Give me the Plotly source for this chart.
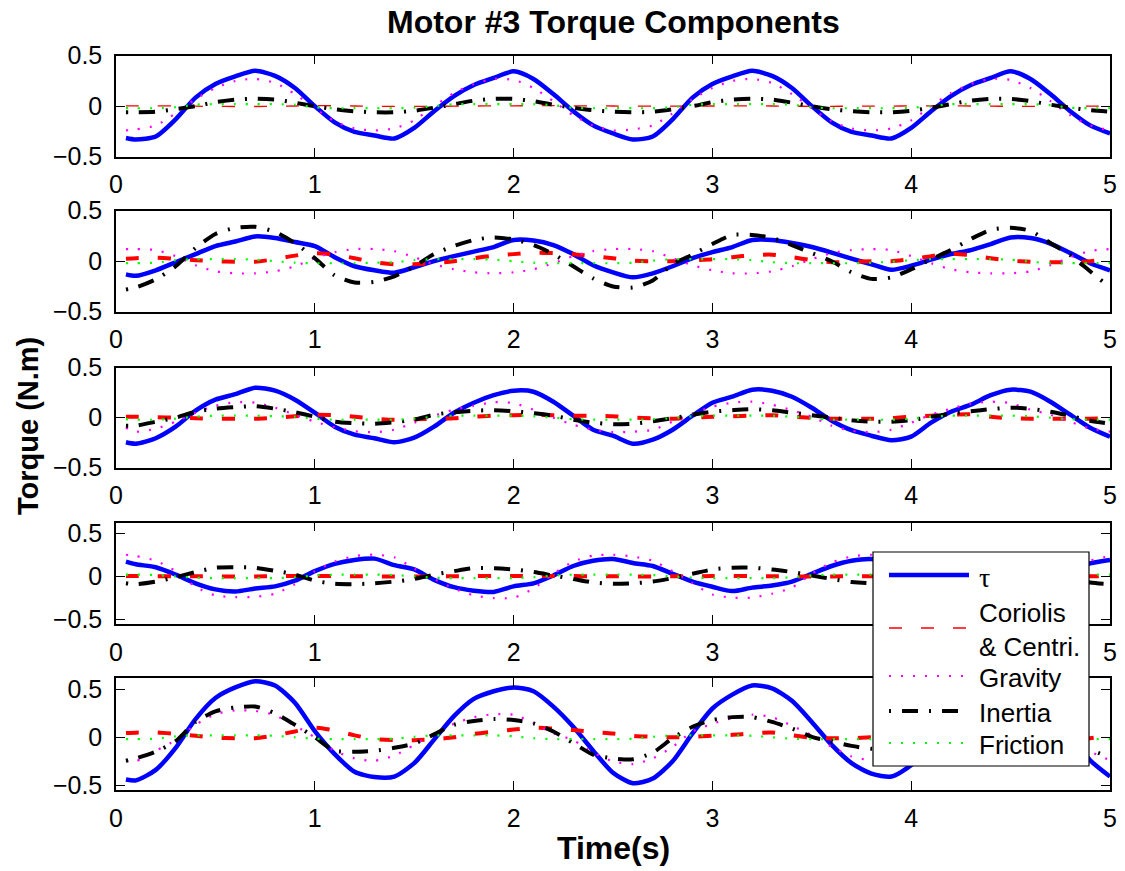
import plotly.graph_objects as go

# ---------------------------------------------------------------- data
time_s = [0.05,
          0.1, 0.2, 0.3, 0.4, 0.5, 0.6, 0.7, 0.8, 0.9, 1.0,
          1.1, 1.2, 1.3, 1.4, 1.5, 1.6, 1.7, 1.8, 1.9, 2.0,
          2.1, 2.2, 2.3, 2.4, 2.5, 2.6, 2.7, 2.8, 2.9, 3.0,
          3.1, 3.2, 3.3, 3.4, 3.5, 3.6, 3.7, 3.8, 3.9, 4.0,
          4.1, 4.2, 4.3, 4.4, 4.5, 4.6, 4.7, 4.8, 4.9, 5.0]

series_names = ["τ", "Coriolis & Centri.", "Gravity", "Inertia", "Friction"]
legend_labels = ["τ", "Coriolis<br>& Centri.", "Gravity", "Inertia", "Friction"]

# row 1
tau_1 = [-0.315,
         -0.33, -0.30, -0.13, 0.085, 0.22, 0.295, 0.35, 0.30, 0.18, 0.0,
         -0.16, -0.255, -0.29, -0.32, -0.215, -0.05, 0.10, 0.21, 0.28, 0.345,
         0.27, 0.12, -0.05, -0.19, -0.27, -0.33, -0.30, -0.13, 0.085, 0.22,
         0.295, 0.35, 0.30, 0.18, 0.0, -0.16, -0.255, -0.29, -0.32, -0.215,
         -0.05, 0.10, 0.21, 0.28, 0.345, 0.27, 0.12, -0.05, -0.19, -0.27]
cor_1 = [0.003,
         0.003, 0.003, 0.002, 0.0, -0.002, -0.003, -0.003, -0.001, 0.002, 0.005,
         0.004, 0.002, -0.001, -0.002, -0.002, -0.001, 0.0, 0.002, 0.003, 0.004,
         0.005, 0.005, 0.004, 0.003, 0.002, 0.001, 0.0, 0.0, 0.001, 0.002,
         0.003, 0.003, 0.002, 0.0, -0.001, -0.001, 0.0, 0.0, 0.001, 0.003,
         0.004, 0.003, 0.002, 0.0, -0.001, -0.001, -0.001, 0.0, 0.001, 0.002]
grav_1 = [-0.24,
          -0.23, -0.19, -0.07, 0.07, 0.18, 0.25, 0.27, 0.23, 0.12, -0.02,
          -0.15, -0.22, -0.24, -0.22, -0.14, 0.0, 0.13, 0.22, 0.27, 0.26,
          0.18, 0.05, -0.09, -0.19, -0.24, -0.23, -0.19, -0.07, 0.07, 0.18,
          0.25, 0.27, 0.23, 0.12, -0.02, -0.15, -0.22, -0.24, -0.22, -0.14,
          0.0, 0.13, 0.22, 0.27, 0.26, 0.18, 0.05, -0.09, -0.19, -0.24]
inert_1 = [-0.06,
           -0.06, -0.055, -0.03, 0.0, 0.04, 0.065, 0.075, 0.065, 0.035, 0.0,
           -0.03, -0.05, -0.06, -0.06, -0.045, -0.015, 0.02, 0.055, 0.072, 0.072,
           0.05, 0.015, -0.015, -0.04, -0.055, -0.06, -0.055, -0.03, 0.0, 0.04,
           0.065, 0.075, 0.065, 0.035, 0.0, -0.03, -0.05, -0.06, -0.06, -0.045,
           -0.015, 0.02, 0.055, 0.072, 0.072, 0.05, 0.015, -0.015, -0.04, -0.055]
fric_1 = [-0.02,
          -0.02, -0.02, -0.01, 0.015, 0.02, 0.02, 0.02, 0.02, 0.015, -0.01,
          -0.02, -0.02, -0.02, -0.02, -0.015, 0.0, 0.02, 0.02, 0.02, 0.02,
          0.02, 0.01, -0.015, -0.02, -0.02, -0.02, -0.02, -0.01, 0.015, 0.02,
          0.02, 0.02, 0.02, 0.015, -0.01, -0.02, -0.02, -0.02, -0.02, -0.015,
          0.0, 0.02, 0.02, 0.02, 0.02, 0.02, 0.01, -0.015, -0.02, -0.02]

# row 2
tau_2 = [-0.13,
         -0.145, -0.09, -0.01, 0.07, 0.15, 0.195, 0.245, 0.23, 0.19, 0.15,
         0.04, -0.05, -0.09, -0.115, -0.06, 0.0, 0.05, 0.095, 0.14, 0.21,
         0.205, 0.16, 0.07, -0.04, -0.11, -0.16, -0.12, -0.05, 0.03, 0.09,
         0.14, 0.21, 0.21, 0.18, 0.14, 0.085, 0.025, -0.03, -0.085, -0.045,
         0.015, 0.07, 0.11, 0.17, 0.235, 0.23, 0.175, 0.08, -0.02, -0.09]
cor_2 = [0.025,
         0.03, 0.035, 0.025, 0.01, 0.0, -0.005, -0.005, 0.02, 0.055, 0.08,
         0.065, 0.03, -0.01, -0.03, -0.03, -0.02, 0.0, 0.03, 0.055, 0.07,
         0.085, 0.08, 0.07, 0.05, 0.03, 0.005, 0.0, 0.0, 0.01, 0.02,
         0.04, 0.06, 0.065, 0.04, 0.01, -0.01, -0.005, 0.0, 0.0, 0.02,
         0.05, 0.075, 0.06, 0.03, 0.005, -0.005, -0.01, -0.01, 0.0, 0.02]
grav_2 = [0.12,
          0.12, 0.11, 0.05, -0.04, -0.10, -0.12, -0.12, -0.10, -0.05, 0.03,
          0.09, 0.12, 0.12, 0.10, 0.04, -0.03, -0.08, -0.11, -0.12, -0.11,
          -0.08, -0.02, 0.05, 0.10, 0.12, 0.12, 0.10, 0.03, -0.04, -0.09,
          -0.12, -0.12, -0.10, -0.05, 0.02, 0.08, 0.11, 0.12, 0.11, 0.05,
          -0.02, -0.08, -0.11, -0.12, -0.12, -0.10, -0.04, 0.04, 0.10, 0.12]
inert_2 = [-0.28,
           -0.26, -0.18, -0.05, 0.13, 0.27, 0.33, 0.34, 0.29, 0.18, 0.03,
           -0.14, -0.21, -0.205, -0.15, -0.05, 0.07, 0.15, 0.21, 0.235, 0.215,
           0.16, 0.07, -0.05, -0.17, -0.25, -0.26, -0.19, -0.03, 0.065, 0.17,
           0.26, 0.26, 0.23, 0.16, 0.08, 0.0, -0.11, -0.175, -0.16, -0.08,
           0.02, 0.11, 0.22, 0.31, 0.33, 0.30, 0.18, 0.06, -0.10, -0.26]
fric_2 = [-0.02,
          -0.02, -0.015, 0.01, 0.02, 0.02, 0.02, 0.015, 0.0, -0.015, -0.02,
          -0.02, -0.02, -0.015, -0.01, 0.01, 0.02, 0.02, 0.02, 0.015, 0.0,
          -0.015, -0.02, -0.02, -0.02, -0.02, -0.015, 0.005, 0.02, 0.02, 0.02,
          0.02, 0.01, -0.01, -0.02, -0.02, -0.02, -0.02, -0.015, -0.005, 0.01,
          0.02, 0.02, 0.02, 0.02, 0.015, -0.005, -0.02, -0.02, -0.02, -0.02]

# row 3
tau_3 = [-0.245,
         -0.26, -0.205, -0.09, 0.07, 0.18, 0.235, 0.30, 0.27, 0.18, 0.05,
         -0.09, -0.17, -0.205, -0.245, -0.2, -0.09, 0.05, 0.15, 0.225, 0.27,
         0.26, 0.16, 0.02, -0.12, -0.18, -0.26, -0.22, -0.12, 0.02, 0.15,
         0.21, 0.28, 0.27, 0.21, 0.1, -0.03, -0.125, -0.18, -0.225, -0.19,
         -0.05, 0.06, 0.13, 0.225, 0.28, 0.26, 0.16, 0.03, -0.1, -0.19]
cor_3 = [0.01,
         0.01, 0.005, 0.0, -0.005, -0.01, -0.01, -0.01, 0.0, 0.015, 0.03,
         0.025, 0.01, -0.01, -0.02, -0.015, -0.01, -0.005, 0.01, 0.02, 0.025,
         0.03, 0.025, 0.02, 0.02, 0.015, 0.0, -0.005, -0.01, 0.0, 0.01,
         0.015, 0.02, 0.025, 0.01, 0.0, -0.01, -0.01, -0.01, -0.005, 0.01,
         0.02, 0.03, 0.035, 0.01, -0.005, -0.01, -0.01, -0.01, -0.01, -0.005]
grav_3 = [-0.10,
          -0.14, -0.11, -0.04, 0.05, 0.12, 0.155, 0.15, 0.10, 0.03, -0.04,
          -0.095, -0.135, -0.145, -0.12, -0.05, 0.02, 0.08, 0.12, 0.155, 0.145,
          0.08, 0.0, -0.07, -0.12, -0.145, -0.14, -0.12, -0.04, 0.04, 0.11,
          0.15, 0.16, 0.13, 0.075, 0.01, -0.08, -0.13, -0.145, -0.12, -0.05,
          0.03, 0.09, 0.14, 0.16, 0.145, 0.08, 0.03, -0.04, -0.11, -0.14]
inert_3 = [-0.08,
           -0.08, -0.04, 0.0, 0.06, 0.09, 0.105, 0.115, 0.09, 0.055, 0.01,
           -0.04, -0.055, -0.06, -0.045, -0.02, 0.03, 0.055, 0.07, 0.075, 0.065,
           0.045, 0.02, -0.02, -0.05, -0.065, -0.06, -0.035, -0.005, 0.03, 0.06,
           0.075, 0.085, 0.075, 0.05, 0.025, 0.0, -0.025, -0.04, -0.04, -0.025,
           0.01, 0.04, 0.065, 0.085, 0.10, 0.09, 0.06, 0.02, -0.03, -0.06]
fric_3 = [-0.015,
          -0.02, -0.02, -0.01, 0.01, 0.02, 0.02, 0.02, 0.015, 0.01, -0.01,
          -0.02, -0.02, -0.02, -0.02, -0.01, 0.01, 0.02, 0.02, 0.02, 0.02,
          0.015, 0.0, -0.015, -0.02, -0.02, -0.02, -0.015, -0.005, 0.015, 0.02,
          0.02, 0.02, 0.02, 0.01, -0.005, -0.02, -0.02, -0.02, -0.02, -0.01,
          0.01, 0.02, 0.02, 0.02, 0.02, 0.015, 0.0, -0.015, -0.02, -0.02]

# row 4
tau_4 = [0.17,
         0.14, 0.105, 0.02, -0.08, -0.15, -0.175, -0.14, -0.115, -0.05, 0.06,
         0.145, 0.19, 0.205, 0.13, 0.08, -0.04, -0.125, -0.165, -0.18, -0.115,
         -0.08, 0.01, 0.12, 0.18, 0.2, 0.155, 0.12, 0.03, -0.06, -0.12,
         -0.17, -0.13, -0.105, -0.06, 0.03, 0.12, 0.18, 0.2, 0.15, 0.11,
         0.02, -0.08, -0.15, -0.175, -0.14, -0.11, -0.04, 0.06, 0.15, 0.19]
cor_4 = [0.004,
         0.004, 0.003, 0.002, 0.001, 0.0, -0.001, 0.0, 0.002, 0.004, 0.005,
         0.004, 0.002, 0.0, -0.001, -0.001, 0.0, 0.002, 0.003, 0.004, 0.005,
         0.005, 0.004, 0.003, 0.002, 0.001, 0.0, 0.0, 0.001, 0.002, 0.003,
         0.004, 0.004, 0.002, 0.0, -0.001, 0.0, 0.001, 0.002, 0.003, 0.004,
         0.005, 0.004, 0.002, 0.001, 0.0, -0.001, 0.0, 0.001, 0.002, 0.003]
grav_4 = [0.25,
          0.235, 0.18, 0.06, -0.12, -0.22, -0.24, -0.235, -0.2, -0.09, 0.06,
          0.17, 0.235, 0.25, 0.22, 0.09, -0.03, -0.14, -0.22, -0.25, -0.245,
          -0.14, 0.03, 0.17, 0.24, 0.25, 0.23, 0.18, 0.06, -0.08, -0.21,
          -0.245, -0.245, -0.2, -0.13, 0.03, 0.16, 0.23, 0.25, 0.24, 0.16,
          0.04, -0.1, -0.2, -0.24, -0.235, -0.2, -0.08, 0.07, 0.18, 0.235]
inert_4 = [-0.08,
           -0.09, -0.06, -0.01, 0.05, 0.1, 0.105, 0.1, 0.065, 0.02, -0.05,
           -0.085, -0.09, -0.08, -0.06, -0.03, 0.02, 0.06, 0.095, 0.095, 0.08,
           0.05, 0.01, -0.03, -0.07, -0.085, -0.08, -0.06, -0.02, 0.03, 0.08,
           0.1, 0.1, 0.08, 0.05, 0.01, -0.03, -0.065, -0.08, -0.075, -0.05,
           -0.01, 0.04, 0.08, 0.1, 0.1, 0.07, 0.03, -0.02, -0.07, -0.09]
fric_4 = [0.02,
          0.02, 0.015, 0.0, -0.015, -0.02, -0.02, -0.02, -0.02, -0.01, 0.01,
          0.02, 0.02, 0.02, 0.015, 0.0, -0.015, -0.02, -0.02, -0.02, -0.02,
          -0.01, 0.01, 0.02, 0.02, 0.02, 0.02, 0.015, 0.0, -0.015, -0.02,
          -0.02, -0.02, -0.02, -0.01, 0.01, 0.02, 0.02, 0.02, 0.02, 0.015,
          0.0, -0.015, -0.02, -0.02, -0.02, -0.02, -0.01, 0.01, 0.02, 0.02]

# row 5
tau_5 = [-0.44,
         -0.45, -0.34, -0.11, 0.19, 0.41, 0.52, 0.585, 0.54, 0.36, 0.065,
         -0.175, -0.36, -0.415, -0.41, -0.27, -0.025, 0.22, 0.40, 0.48, 0.52,
         0.48, 0.32, 0.11, -0.14, -0.37, -0.48, -0.43, -0.25, 0.04, 0.30,
         0.445, 0.54, 0.51, 0.38, 0.16, -0.08, -0.27, -0.38, -0.41, -0.29,
         -0.04, 0.2, 0.38, 0.48, 0.53, 0.47, 0.28, 0.02, -0.24, -0.41]
cor_5 = [0.045,
         0.048, 0.05, 0.035, 0.015, -0.005, -0.01, -0.01, 0.02, 0.06, 0.1,
         0.07, 0.02, -0.02, -0.03, -0.03, -0.02, 0.0, 0.035, 0.06, 0.08,
         0.1, 0.09, 0.075, 0.055, 0.04, 0.015, 0.005, 0.0, 0.005, 0.015,
         0.025, 0.04, 0.05, 0.02, -0.005, -0.01, -0.01, 0.0, 0.01, 0.03,
         0.06, 0.085, 0.07, 0.04, 0.01, -0.01, -0.02, -0.02, -0.01, 0.02]
grav_5 = [-0.245,
          -0.25, -0.14, -0.03, 0.13, 0.24, 0.28, 0.275, 0.23, 0.12, 0.0,
          -0.14, -0.22, -0.245, -0.19, -0.08, 0.04, 0.14, 0.21, 0.24, 0.235,
          0.15, 0.04, -0.03, -0.16, -0.25, -0.28, -0.22, -0.1, 0.06, 0.14,
          0.2, 0.235, 0.21, 0.12, 0.02, -0.1, -0.2, -0.24, -0.22, -0.12,
          0.0, 0.12, 0.2, 0.24, 0.235, 0.17, 0.06, -0.05, -0.15, -0.24]
inert_5 = [-0.245,
           -0.22, -0.15, -0.04, 0.16, 0.27, 0.31, 0.32, 0.25, 0.13, 0.0,
           -0.14, -0.15, -0.14, -0.11, -0.065, 0.03, 0.13, 0.17, 0.19, 0.18,
           0.145, 0.06, -0.06, -0.18, -0.22, -0.23, -0.16, -0.01, 0.11, 0.18,
           0.21, 0.21, 0.16, 0.09, 0.005, -0.045, -0.09, -0.12, -0.12, -0.08,
           0.0, 0.1, 0.17, 0.2, 0.19, 0.14, 0.05, -0.05, -0.13, -0.21]
fric_5 = [-0.02,
          -0.02, -0.015, 0.01, 0.02, 0.02, 0.02, 0.02, 0.015, 0.0, -0.015,
          -0.02, -0.02, -0.02, -0.015, 0.005, 0.02, 0.02, 0.02, 0.02, 0.01,
          -0.01, -0.02, -0.02, -0.02, -0.02, -0.015, 0.005, 0.02, 0.02, 0.02,
          0.02, 0.015, 0.0, -0.015, -0.02, -0.02, -0.02, -0.02, -0.01, 0.01,
          0.02, 0.02, 0.02, 0.02, 0.01, -0.01, -0.02, -0.02, -0.02, -0.02]

rows = [
    (tau_1, cor_1, grav_1, inert_1, fric_1),
    (tau_2, cor_2, grav_2, inert_2, fric_2),
    (tau_3, cor_3, grav_3, inert_3, fric_3),
    (tau_4, cor_4, grav_4, inert_4, fric_4),
    (tau_5, cor_5, grav_5, inert_5, fric_5),
]
for row in rows:
    for s in row:
        assert len(s) == len(time_s)

y_ranges = [(-0.5, 0.5), (-0.5, 0.5), (-0.5, 0.5), (-0.55, 0.62), (-0.55, 0.615)]
x_ticks = [0, 1, 2, 3, 4, 5]
y_ticks = [-0.5, 0, 0.5]

# ---------------------------------------------------------------- styling
W, H = 1125, 871
FONT = "Liberation Sans, Arial, Helvetica, sans-serif"
TICK_SIZE = 25


def fx(px):
    return px / W


def fy(px):
    return 1 - px / H


PLOT_LEFT, PLOT_RIGHT = 116, 1110
ROW_PIX = [(55.7, 156.7), (210.7, 311.7), (367.7, 467.7), (522.7, 624.0), (678.3, 790.0)]

BLUE, RED, MAGENTA, BLACK, GREEN = "#0000ff", "#ff0000", "#ff00ff", "#000000", "#00ff00"
DASH = "13px,19px"
DOT = "2px,10px"
DASHDOT = "2px,11px,16px,11px"

# (colour, width, dash) per series; Coriolis is thin in the top panel
styles = [
    (BLUE, 4.5, "solid"),
    (RED, 4.0, DASH),
    (MAGENTA, 2.2, DOT),
    (BLACK, 4.0, DASHDOT),
    (GREEN, 2.2, DOT),
]

fig = go.Figure()

for r, row in enumerate(rows):
    idx = "" if r == 0 else str(r + 1)
    for k, values in enumerate(row):
        color, width, dash = styles[k]
        if r == 0 and k == 1:
            width = 1.3
        fig.add_trace(go.Scatter(
            x=time_s, y=values, mode="lines", name=series_names[k],
            line=dict(color=color, width=width, dash=dash,
                      shape="spline", smoothing=0.7),
            xaxis="x" + idx, yaxis="y" + idx, showlegend=False,
        ))

    top, bottom = ROW_PIX[r]
    axis_common = dict(
        ticks="inside", ticklen=9, tickwidth=1.3, tickcolor="black",
        showline=True, linecolor="black", linewidth=1.5, mirror="ticks",
        showgrid=False, zeroline=False, automargin=False,
        tickfont=dict(family=FONT, size=TICK_SIZE, color="black"),
    )
    fig.update_layout(**{
        "xaxis" + idx: dict(
            domain=[fx(PLOT_LEFT), fx(PLOT_RIGHT)], anchor="y" + idx,
            range=[0, 5], tickvals=x_ticks, ticklabelstandoff=5,
            **axis_common),
        "yaxis" + idx: dict(
            domain=[fy(bottom), fy(top)], anchor="x" + idx,
            range=list(y_ranges[r]), tickvals=y_ticks, ticklabelstandoff=7,
            **axis_common),
    })

# ---------------------------------------------------------------- legend box
LEG_X0, LEG_X1, LEG_Y0, LEG_Y1 = 873, 1089, 552, 766
SAMPLE_X0, SAMPLE_X1, TEXT_X = 889, 969, 977
LINE_Y = [575, 628, 676, 711, 743]
TEXT_Y = [577, 630, 678, 713, 745]

shapes = [dict(type="rect", xref="paper", yref="paper", layer="above",
               x0=fx(LEG_X0), x1=fx(LEG_X1), y0=fy(LEG_Y1), y1=fy(LEG_Y0),
               fillcolor="white", line=dict(color="black", width=1.2))]
annotations = []
for k, label in enumerate(legend_labels):
    color, width, dash = styles[k]
    if k == 1:
        width = 1.3
    shapes.append(dict(type="line", xref="paper", yref="paper", layer="above",
                       x0=fx(SAMPLE_X0), x1=fx(SAMPLE_X1),
                       y0=fy(LINE_Y[k]), y1=fy(LINE_Y[k]),
                       line=dict(color=color, width=width, dash=dash)))
    family = "Liberation Serif, Times New Roman, serif" if k == 0 else FONT
    size = 28 if k == 0 else 26
    annotations.append(dict(
        text=label, xref="paper", yref="paper", showarrow=False,
        x=fx(TEXT_X), y=fy(TEXT_Y[k]), xanchor="left", yanchor="middle",
        align="left", font=dict(family=family, size=size, color="black")))

# ---------------------------------------------------------------- titles
annotations += [
    dict(text="<b>Motor #3 Torque Components</b>", xref="paper", yref="paper",
         x=fx(613), y=fy(22), xanchor="center", yanchor="middle",
         showarrow=False, font=dict(family=FONT, size=32, color="black")),
    dict(text="<b>Time(s)</b>", xref="paper", yref="paper",
         x=fx(613), y=fy(848), xanchor="center", yanchor="middle",
         showarrow=False, font=dict(family=FONT, size=32, color="black")),
    dict(text="<b>Torque (N.m)</b>", xref="paper", yref="paper",
         x=fx(28), y=fy(426), xanchor="center", yanchor="middle",
         textangle=-90, showarrow=False,
         font=dict(family=FONT, size=29, color="black")),
]

fig.update_layout(
    width=W, height=H, autosize=False,
    margin=dict(l=0, r=0, t=0, b=0, pad=0),
    paper_bgcolor="white", plot_bgcolor="white",
    showlegend=False,
    shapes=shapes, annotations=annotations,
)

fig.write_html("out.html")
